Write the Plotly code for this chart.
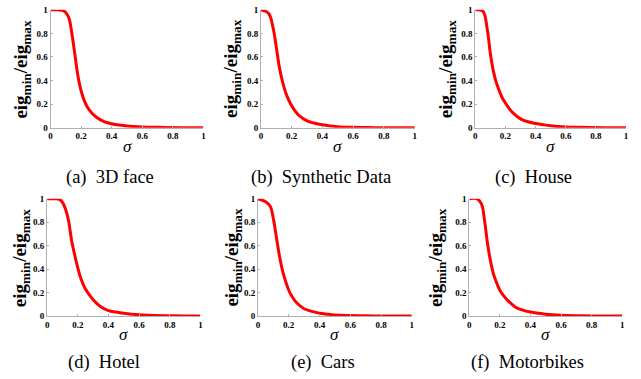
import plotly.graph_objects as go

# sigma grid shared by all panels
sigma = [0, 0.05, 0.08, 0.1, 0.12, 0.14, 0.16, 0.18, 0.2, 0.22, 0.25,
         0.3, 0.35, 0.4, 0.45, 0.5, 0.6, 0.7, 0.8, 0.9, 1.0]

# eig_min / eig_max
face3d = [1, 1, 0.995, 0.975, 0.93, 0.79, 0.61, 0.43, 0.31, 0.23, 0.155,
          0.088, 0.052, 0.034, 0.022, 0.014, 0.006, 0.003, 0.001, 0, 0]
synthetic = [1, 0.97, 0.84, 0.68, 0.51, 0.39, 0.30, 0.235, 0.185, 0.145, 0.10,
             0.058, 0.037, 0.024, 0.015, 0.008, 0.003, 0.001, 0, 0, 0]
house = [1, 0.99, 0.83, 0.63, 0.48, 0.38, 0.31, 0.25, 0.21, 0.17, 0.125,
         0.075, 0.05, 0.036, 0.025, 0.016, 0.006, 0.003, 0.001, 0, 0]
hotel = [1, 1, 0.995, 0.97, 0.91, 0.81, 0.64, 0.52, 0.41, 0.32, 0.23,
         0.14, 0.08, 0.047, 0.034, 0.024, 0.011, 0.005, 0.003, 0.001, 0]
cars = [1, 0.975, 0.935, 0.83, 0.67, 0.51, 0.385, 0.295, 0.22, 0.17, 0.115,
        0.062, 0.04, 0.024, 0.016, 0.01, 0.005, 0.002, 0.001, 0, 0]
motorbikes = [1, 1, 0.955, 0.81, 0.61, 0.46, 0.35, 0.28, 0.22, 0.18, 0.135,
              0.078, 0.05, 0.034, 0.024, 0.016, 0.007, 0.003, 0.001, 0, 0]

captions = ["(a)&nbsp;&nbsp;3D face", "(b)&nbsp;&nbsp;Synthetic Data", "(c)&nbsp;&nbsp;House",
            "(d)&nbsp;&nbsp;Hotel", "(e)&nbsp;&nbsp;Cars", "(f)&nbsp;&nbsp;Motorbikes"]
series = [face3d, synthetic, house, hotel, cars, motorbikes]
ticks = [0, 0.2, 0.4, 0.6, 0.8, 1]
tick_text = ["0", "0.2", "0.4", "0.6", "0.8", "1"]

W, H = 641, 379

# pixel boxes of each plot area: (left, right, top, bottom)
boxes = [(49, 203, 5, 126), (261, 416, 5, 126), (477, 629, 5, 126),
         (45.5, 200, 199, 319.5), (258, 413, 199, 319.5), (471, 625, 199, 319.5)]
ylab_x = [20, 232, 448, 20, 233, 439]
cap_x = [109, 322, 536, 103, 324, 530]
cap_y = [177, 177, 177, 367, 367, 367]

fig = go.Figure()
serif = "Liberation Serif"
tickfont = dict(family=serif, size=9, color="black", weight="bold")


def note(x, y, text, size, **kw):
    fig.add_annotation(x=x / W, y=1 - y / H, xref="paper", yref="paper", text=text,
                       showarrow=False, xanchor="center", yanchor="middle",
                       font=dict(family=serif, size=size, color="black"), **kw)


for i, (vals, box) in enumerate(zip(series, boxes)):
    n = "" if i == 0 else str(i + 1)
    l, r, t, b = box
    fig.add_trace(go.Scatter(x=sigma, y=vals, mode="lines",
                             line=dict(color="#ff0000", width=3, shape="spline", smoothing=1),
                             xaxis="x" + n, yaxis="y" + n, showlegend=False, cliponaxis=False))
    common = dict(showgrid=False, zeroline=False, showline=True, linecolor="#b0b0b0",
                  linewidth=1, ticks="inside", ticklen=2, tickcolor="#b0b0b0",
                  tickfont=tickfont, range=[0, 1], fixedrange=True,
                  tickvals=ticks, ticktext=tick_text)
    fig.update_layout(**{
        "xaxis" + n: dict(domain=[l / W, r / W], anchor="y" + n, **common),
        "yaxis" + n: dict(domain=[1 - b / H, 1 - t / H], anchor="x" + n, **common),
    })
    note(ylab_x[i], (t + b) / 2, "<b>eig<sub>min</sub>/eig<sub>max</sub></b>", 19, textangle=-90)
    note((l + r) / 2, b + 19, "<i>σ</i>", 17)
    note(cap_x[i], cap_y[i], captions[i], 18.5)

fig.update_layout(width=W, height=H, margin=dict(l=0, r=0, t=0, b=0),
                  paper_bgcolor="white", plot_bgcolor="white")
fig.write_html("out.html", config={"displayModeBar": False},
               post_script="document.body.style.margin='0px';")
